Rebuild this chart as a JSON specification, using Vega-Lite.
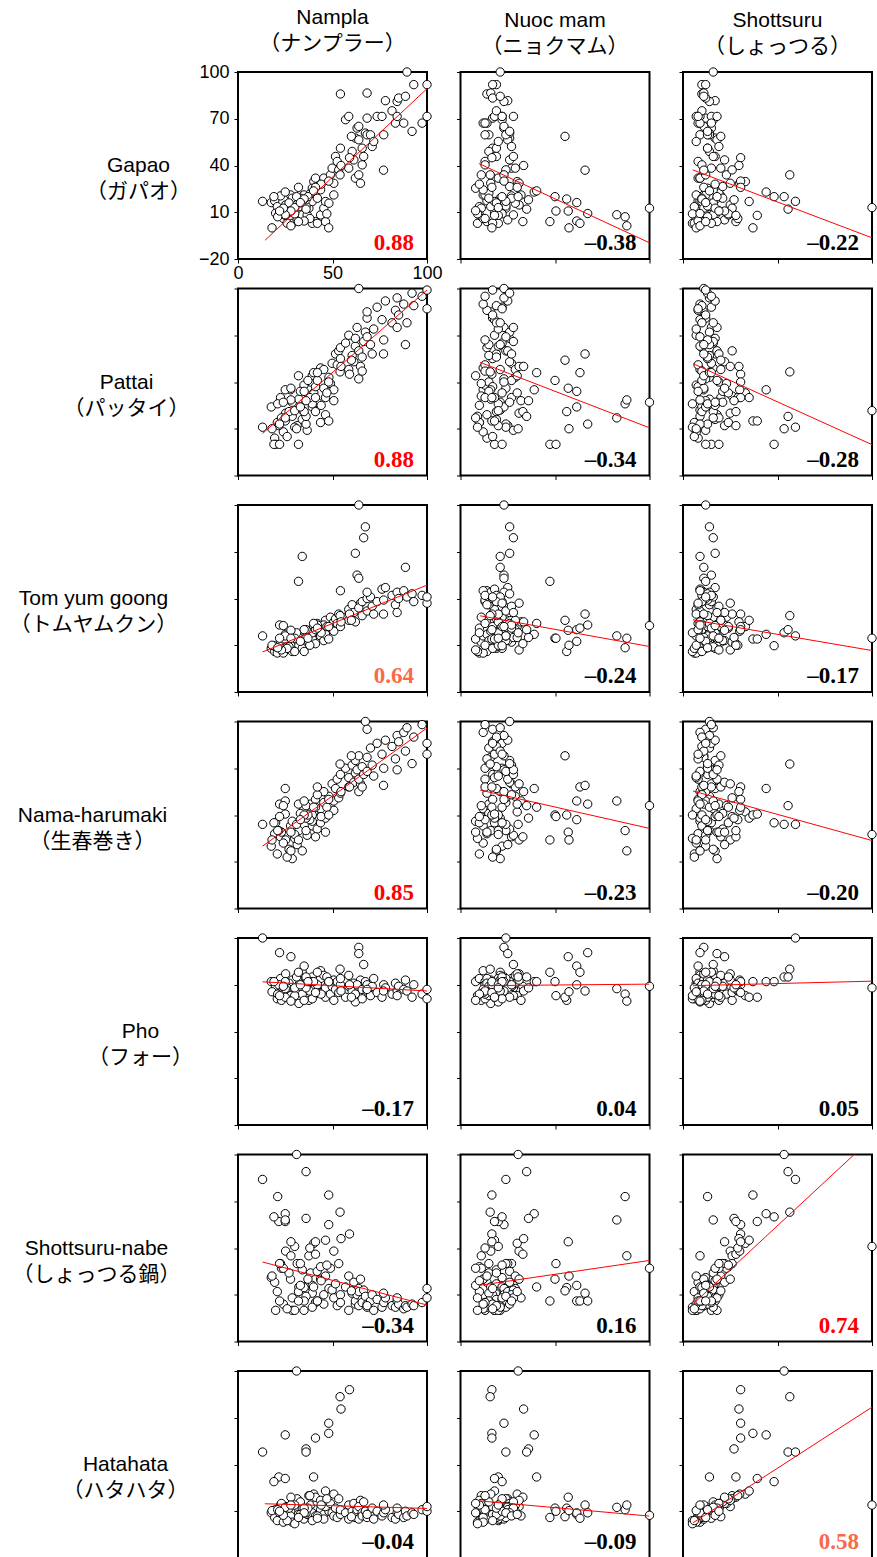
{
"$schema":"https://vega.github.io/schema/vega-lite/v6.json",
"background":"white",
"padding":{"left":8,"top":6,"right":5,"bottom":0},
"columns":3,
"spacing":{"row":29.5,"column":33.5},
"bounds":"flush",
"config":{
 "view":{"stroke":"black","strokeWidth":2},
 "axis":{"grid":false,"domain":false,"ticks":true,"tickSize":4,"tickColor":"black","tickWidth":1,"labelColor":"black","labelFont":"Liberation Sans","labelFontSize":18,"labelFlush":false,"labelOverlap":false,"titleColor":"black","titleFont":"'Liberation Sans', 'Noto Sans CJK JP', sans-serif","titleFontSize":21,"titleFontWeight":"normal"},
 "axisX":{"labelPadding":1},
 "axisY":{"labelPadding":5,"titleAngle":0,"titleAlign":"center","titleBaseline":"middle","titleY":93.5,"titleLineHeight":26},
 "title":{"font":"'Liberation Sans', 'Noto Sans CJK JP', sans-serif","fontSize":21,"fontWeight":"normal","lineHeight":26,"offset":9,"color":"black"}
},
"datasets":{
"subj":[
{"n":17.6,"m":22,"s":12,"g":16.2,"p":24,"t":8,"h":20,"f":72,"b":21,"k":9},
{"n":19.4,"m":14,"s":8,"g":17.3,"p":4,"t":6,"h":28,"f":66,"b":18,"k":6},
{"n":22.5,"m":27,"s":20,"g":20.5,"p":30,"t":12,"h":26,"f":74,"b":30,"k":14},
{"n":20.8,"m":10,"s":6,"g":13.6,"p":14,"t":5,"h":15,"f":61,"b":12,"k":4},
{"n":19.9,"m":18,"s":15,"g":9.4,"p":0,"t":9,"h":35,"f":69,"b":0,"k":11},
{"n":25.2,"m":31,"s":25,"g":14.7,"p":20,"t":7,"h":24,"f":77,"b":38,"k":13},
{"n":27.8,"m":12,"s":11,"g":21.1,"p":35,"t":14,"h":33,"f":63,"b":20,"k":7},
{"n":28.7,"m":21,"s":18,"g":19,"p":27,"t":11,"h":12,"f":70,"b":0,"k":15},
{"n":28.7,"m":9,"s":9,"g":2.9,"p":18,"t":6,"h":36,"f":73,"b":8,"k":3},
{"n":31.3,"m":25,"s":22,"g":5.1,"p":12,"t":13,"h":21,"f":66,"b":30,"k":18},
{"n":32.2,"m":16,"s":14,"g":13.6,"p":29,"t":10,"h":30,"f":58,"b":15,"k":10},
{"n":34,"m":21,"s":9,"g":17.3,"p":22,"t":67,"h":38,"f":78,"b":15,"k":8},
{"n":34.9,"m":13,"s":7,"g":21.1,"p":38,"t":16,"h":44,"f":71,"b":0,"k":5},
{"n":34,"m":19,"s":17,"g":8.3,"p":16,"t":8,"h":17,"f":64,"b":26,"k":12},
{"n":36.6,"m":28,"s":12,"g":8.3,"p":9,"t":15,"h":27,"f":68,"b":16,"k":8},
{"n":37.5,"m":11,"s":26,"g":12.6,"p":31,"t":12,"h":39,"f":60,"b":35,"k":20},
{"n":39.3,"m":23,"s":10,"g":16.9,"p":24,"t":20,"h":33,"f":75,"b":11,"k":6},
{"n":38.4,"m":15,"s":19,"g":22.2,"p":40,"t":17,"h":47,"f":67,"b":24,"k":14},
{"n":40.1,"m":30,"s":33,"g":29.7,"p":33,"t":22,"h":42,"f":63,"b":43,"k":21},
{"n":39.3,"m":8,"s":13,"g":25.4,"p":44,"t":14,"h":36,"f":72,"b":16,"k":9},
{"n":41,"m":17,"s":8,"g":31.9,"p":37,"t":19,"h":50,"f":70,"b":5,"k":7},
{"n":41.9,"m":26,"s":21,"g":26.5,"p":27,"t":24,"h":31,"f":65,"b":25,"k":16},
{"n":43.7,"m":12,"s":16,"g":24.4,"p":49,"t":16,"h":44,"f":79,"b":20,"k":11},
{"n":41,"m":33,"s":28,"g":4,"p":21,"t":11,"h":26,"f":69,"b":36,"k":19},
{"n":39.3,"m":20,"s":5,"g":2.9,"p":26,"t":18,"h":40,"f":61,"b":2,"k":4},
{"n":43.7,"m":10,"s":24,"g":8.3,"p":14,"t":21,"h":35,"f":74,"b":28,"k":17},
{"n":45.4,"m":24,"s":11,"g":12.6,"p":36,"t":13,"h":48,"f":66,"b":10,"k":8},
{"n":46.3,"m":18,"s":35,"g":16.9,"p":30,"t":26,"h":38,"f":62,"b":45,"k":23},
{"n":48.1,"m":29,"s":14,"g":15.8,"p":43,"t":20,"h":52,"f":71,"b":14,"k":10},
{"n":46.3,"m":14,"s":18,"g":4,"p":19,"t":17,"h":29,"f":68,"b":22,"k":13},
{"n":45.4,"m":21,"s":9,"g":31.9,"p":48,"t":23,"h":55,"f":76,"b":4,"k":5},
{"n":48.9,"m":11,"s":23,"g":34,"p":39,"t":28,"h":46,"f":64,"b":27,"k":15},
{"n":49.8,"m":27,"s":15,"g":38.3,"p":52,"t":21,"h":60,"f":69,"b":13,"k":9},
{"n":50.7,"m":16,"s":30,"g":28.6,"p":35,"t":19,"h":43,"f":73,"b":38,"k":21},
{"n":50.7,"m":32,"s":12,"g":21.1,"p":28,"t":25,"h":49,"f":60,"b":8,"k":7},
{"n":51.6,"m":19,"s":17,"g":45.8,"p":58,"t":27,"h":57,"f":67,"b":17,"k":12},
{"n":52.5,"m":13,"s":8,"g":42.6,"p":51,"t":24,"h":63,"f":72,"b":3,"k":6},
{"n":53.3,"m":24,"s":26,"g":37.2,"p":60,"t":30,"h":51,"f":65,"b":30,"k":18},
{"n":54.2,"m":17,"s":13,"g":51.1,"p":55,"t":22,"h":66,"f":70,"b":10,"k":8},
{"n":54.2,"m":14,"s":10,"g":85.9,"p":62,"t":45,"h":54,"f":74,"b":5,"k":11},
{"n":56.9,"m":22,"s":16,"g":69.4,"p":65,"t":28,"h":70,"f":62,"b":15,"k":9},
{"n":58.6,"m":18,"s":7,"g":71.5,"p":70,"t":33,"h":64,"f":69,"b":0,"k":5},
{"n":58.6,"m":29,"s":20,"g":38.3,"p":48,"t":26,"h":58,"f":76,"b":22,"k":14},
{"n":60.4,"m":15,"s":14,"g":49,"p":57,"t":36,"h":72,"f":66,"b":11,"k":10},
{"n":61.3,"m":26,"s":22,"g":43.6,"p":53,"t":31,"h":61,"f":71,"b":18,"k":15},
{"n":62.1,"m":20,"s":9,"g":31.9,"p":63,"t":25,"h":67,"f":59,"b":4,"k":6},
{"n":63.9,"m":23,"s":12,"g":34,"p":42,"t":100,"h":55,"f":68,"b":14,"k":12},
{"n":64.8,"m":31,"s":25,"g":28.6,"p":50,"t":37,"h":60,"f":73,"b":20,"k":17},
{"n":62.1,"m":26,"s":17,"g":57.6,"p":68,"t":69,"h":75,"f":64,"b":6,"k":8},
{"n":63,"m":23,"s":15,"g":64,"p":75,"t":55,"h":69,"f":70,"b":10,"k":11},
{"n":63.9,"m":23,"s":11,"g":65.1,"p":100,"t":53,"h":78,"f":94,"b":3,"k":5},
{"n":63.9,"m":25,"s":18,"g":56.5,"p":60,"t":34,"h":63,"f":90,"b":12,"k":13},
{"n":65.7,"m":19,"s":13,"g":51.1,"p":56,"t":29,"h":71,"f":67,"b":7,"k":9},
{"n":66.5,"m":28,"s":16,"g":45.8,"p":66,"t":79,"h":66,"f":83,"b":13,"k":16},
{"n":65.7,"m":13,"s":10,"g":40.4,"p":47,"t":38,"h":58,"f":61,"b":5,"k":7},
{"n":67.4,"m":26,"s":14,"g":60.8,"p":72,"t":86,"h":100,"f":72,"b":9,"k":10},
{"n":68.3,"m":17,"s":12,"g":70.4,"p":81,"t":40,"h":95,"f":66,"b":4,"k":8},
{"n":68.3,"m":24,"s":9,"g":59.7,"p":69,"t":32,"h":68,"f":70,"b":2,"k":6},
{"n":70.1,"m":15,"s":14,"g":59.7,"p":64,"t":41,"h":83,"f":63,"b":6,"k":9},
{"n":71,"m":27,"s":19,"g":52.2,"p":58,"t":35,"h":72,"f":69,"b":10,"k":12},
{"n":71.8,"m":20,"s":7,"g":55.4,"p":74,"t":30,"h":65,"f":74,"b":0,"k":5},
{"n":68.3,"m":16,"s":11,"g":86.5,"p":85,"t":44,"h":77,"f":67,"b":3,"k":8},
{"n":73.6,"m":22,"s":15,"g":71.5,"p":88,"t":38,"h":86,"f":65,"b":7,"k":10},
{"n":76.2,"m":18,"s":9,"g":71.5,"p":80,"t":46,"h":79,"f":62,"b":2,"k":7},
{"n":77.1,"m":13,"s":13,"g":59.7,"p":67,"t":39,"h":70,"f":70,"b":5,"k":9},
{"n":78,"m":25,"s":17,"g":81.6,"p":92,"t":47,"h":88,"f":68,"b":8,"k":11},
{"n":81.5,"m":19,"s":10,"g":75.1,"p":78,"t":42,"h":84,"f":64,"b":3,"k":6},
{"n":83.3,"m":14,"s":8,"g":67.2,"p":86,"t":36,"h":76,"f":71,"b":2,"k":5},
{"n":84.2,"m":23,"s":14,"g":81.1,"p":94,"t":44,"h":91,"f":66,"b":6,"k":9},
{"n":85,"m":17,"s":12,"g":83.3,"p":83,"t":40,"h":87,"f":69,"b":4,"k":8},
{"n":84.2,"m":28,"s":18,"g":71.5,"p":75,"t":31,"h":69,"f":63,"b":8,"k":12},
{"n":87.7,"m":12,"s":9,"g":67.2,"p":90,"t":45,"h":93,"f":67,"b":1,"k":6},
{"n":88.6,"m":21,"s":11,"g":84.4,"p":64,"t":60,"h":81,"f":73,"b":3,"k":10},
{"n":89.4,"m":21,"s":16,"g":100,"p":78,"t":41,"h":96,"f":66,"b":2,"k":7},
{"n":92.1,"m":26,"s":13,"g":61.9,"p":97,"t":43,"h":73,"f":62,"b":4,"k":9},
{"n":93,"m":19,"s":10,"g":91.9,"p":89,"t":38,"h":90,"f":70,"b":3,"k":8},
{"n":97.4,"m":13,"s":15,"g":67.2,"p":95,"t":42,"h":98,"f":64,"b":5,"k":11},
{"n":100,"m":22,"s":8,"g":71.5,"p":87,"t":37,"h":79,"f":61,"b":8,"k":10},
{"n":100,"m":17,"s":12,"g":91.9,"p":99,"t":41,"h":86,"f":67,"b":14,"k":13},
{"n":24,"m":12,"s":7,"g":6,"p":8,"t":5,"h":22,"f":65,"b":4,"k":3},
{"n":27,"m":19,"s":16,"g":16,"p":21,"t":9,"h":18,"f":71,"b":24,"k":12},
{"n":30,"m":9,"s":5,"g":9,"p":11,"t":6,"h":25,"f":63,"b":0,"k":2},
{"n":33,"m":15,"s":21,"g":19,"p":34,"t":13,"h":41,"f":69,"b":30,"k":16},
{"n":36,"m":24,"s":13,"g":14,"p":13,"t":16,"h":30,"f":74,"b":9,"k":9},
{"n":38,"m":13,"s":29,"g":6,"p":30,"t":10,"h":37,"f":66,"b":40,"k":20},
{"n":42,"m":27,"s":10,"g":19,"p":41,"t":23,"h":53,"f":70,"b":6,"k":7},
{"n":44,"m":10,"s":17,"g":28,"p":25,"t":18,"h":39,"f":64,"b":19,"k":14},
{"n":47,"m":22,"s":24,"g":9,"p":33,"t":22,"h":45,"f":75,"b":29,"k":18},
{"n":26,"m":17,"s":6,"g":3,"p":5,"t":8,"h":13,"f":68,"b":1,"k":4},
{"n":23,"m":8,"s":19,"g":11,"p":17,"t":7,"h":29,"f":60,"b":27,"k":15},
{"n":32,"m":30,"s":11,"g":26,"p":44,"t":15,"h":47,"f":77,"b":12,"k":8},
{"n":31,"m":30.5,"s":53.5,"g":20,"p":10,"t":18,"h":34,"f":75,"b":100,"k":100},
{"n":59,"m":16.6,"s":30.5,"g":45,"p":45,"t":30,"h":58,"f":70,"b":49,"k":88},
{"n":54,"m":15.7,"s":56.5,"g":34,"p":46.5,"t":29,"h":72.7,"f":80,"b":63,"k":83.5},
{"n":54.5,"m":33.4,"s":29.6,"g":40,"p":50,"t":25,"h":55,"f":66,"b":46,"k":75.6},
{"n":48,"m":23,"s":30.5,"g":30,"p":40,"t":22,"h":50,"f":72,"b":55,"k":66.5},
{"n":48,"m":16.6,"s":37,"g":0,"p":15,"t":14,"h":40,"f":72,"b":74,"k":60},
{"n":41,"m":16.6,"s":30.5,"g":26,"p":30,"t":20,"h":45,"f":65,"b":44,"k":57},
{"n":25,"m":39,"s":44,"g":23,"p":35,"t":17,"h":57,"f":72,"b":62,"k":59},
{"n":36,"m":36,"s":27,"g":18,"p":28,"t":15,"h":38,"f":68,"b":59,"k":50},
{"n":36,"m":35,"s":55.6,"g":12,"p":17.9,"t":20,"h":46,"f":75,"b":89,"k":48},
{"n":13,"m":24,"s":59.5,"g":17,"p":11,"t":16,"h":34,"f":100,"b":84,"k":48},
{"n":21.6,"m":20,"s":28,"g":8,"p":12,"t":10,"h":30,"f":70,"b":57,"k":32},
{"n":25,"m":18,"s":39.3,"g":8,"p":15,"t":14,"h":40.6,"f":62,"b":57,"k":31},
{"n":19,"m":22,"s":48.2,"g":20,"p":0,"t":9.7,"h":35,"f":72,"b":60,"k":29},
{"n":30,"m":20,"s":100,"g":13,"p":21.6,"t":14.5,"h":27.5,"f":68,"b":41,"k":14},
{"n":40,"m":40.3,"s":14,"g":23.7,"p":46,"t":24,"h":45,"f":72,"b":15,"k":32},
{"n":37,"m":50,"s":18,"g":20,"p":41,"t":14.5,"h":40,"f":72,"b":20,"k":12},
{"n":35,"m":56.2,"s":10,"g":18.5,"p":21,"t":6,"h":40,"f":60,"b":14.6,"k":12},
{"n":60,"m":55.3,"s":20,"g":58.7,"p":54,"t":26,"h":78,"f":62,"b":12.5,"k":6.5},
{"n":33,"m":61.5,"s":12,"g":16.2,"p":24,"t":12.5,"h":37,"f":70,"b":16,"k":8},
{"n":28,"m":57,"s":22,"g":10.8,"p":36,"t":19.6,"h":29,"f":88,"b":44,"k":19},
{"n":35,"m":61.5,"s":8,"g":4.4,"p":34,"t":20,"h":49,"f":82,"b":6,"k":9},
{"n":42,"m":63.2,"s":15,"g":2.9,"p":46,"t":21,"h":58,"f":78,"b":6,"k":5.5},
{"n":77,"m":65.9,"s":11,"g":37,"p":58,"t":30,"h":59,"f":66,"b":11,"k":14},
{"n":22,"m":67.3,"s":9,"g":9.2,"p":13,"t":23,"h":47,"f":90.6,"b":6,"k":9},
{"n":18,"m":57.4,"s":7,"g":0,"p":10,"t":10,"h":24,"f":65.5,"b":22,"k":10.4},
{"n":25,"m":82.7,"s":16,"g":8.4,"p":17,"t":16,"h":49,"f":67.5,"b":58,"k":12.5},
{"n":21,"m":87.1,"s":13,"g":7.1,"p":26,"t":8.4,"h":30,"f":64,"b":73,"k":11},
{"n":28,"m":88,"s":9,"g":1.3,"p":28.5,"t":14.5,"h":17,"f":59.5,"b":35,"k":14},
{"n":24,"m":100,"s":17,"g":12.6,"p":27,"t":22.6,"h":46,"f":69,"b":27,"k":7.4},
{"n":32,"m":47.3,"s":12,"g":4,"p":0,"t":51,"h":24,"f":78,"b":6,"k":6},
{"n":22,"m":50.5,"s":19,"g":10.8,"p":0,"t":14.5,"h":39,"f":63,"b":30,"k":10}
],
"fit":[
{"pid":"g_n","x":14.3,"y":-8},{"pid":"g_n","x":100,"y":89.3},
{"pid":"g_m","x":9.7,"y":41.3},{"pid":"g_m","x":100,"y":-9.6},
{"pid":"g_s","x":5.1,"y":37.2},{"pid":"g_s","x":100,"y":-6.4},
{"pid":"p_n","x":13,"y":7},{"pid":"p_n","x":100,"y":99},
{"pid":"p_m","x":10.4,"y":52.6},{"pid":"p_m","x":100,"y":10.6},
{"pid":"p_s","x":5.3,"y":51.8},{"pid":"p_s","x":100,"y":-0.2},
{"pid":"t_n","x":13,"y":5.7},{"pid":"t_n","x":100,"y":48.6},
{"pid":"t_m","x":10.4,"y":28.9},{"pid":"t_m","x":100,"y":9.2},
{"pid":"t_s","x":5.3,"y":26.3},{"pid":"t_s","x":100,"y":6.6},
{"pid":"h_n","x":13,"y":20},{"pid":"h_n","x":100,"y":95.8},
{"pid":"h_m","x":10.4,"y":56},{"pid":"h_m","x":100,"y":31.4},
{"pid":"h_s","x":5.3,"y":55.4},{"pid":"h_s","x":100,"y":23.6},
{"pid":"f_n","x":13,"y":71.9},{"pid":"f_n","x":100,"y":66},
{"pid":"f_m","x":10.4,"y":69.4},{"pid":"f_m","x":100,"y":70.4},
{"pid":"f_s","x":5.3,"y":69.4},{"pid":"f_s","x":100,"y":72.3},
{"pid":"b_n","x":13,"y":31},{"pid":"b_n","x":100,"y":3.4},
{"pid":"b_m","x":10.4,"y":16.1},{"pid":"b_m","x":100,"y":32},
{"pid":"b_s","x":5.3,"y":4},{"pid":"b_s","x":100,"y":110.6},
{"pid":"k_n","x":14.2,"y":14.8},{"pid":"k_n","x":100,"y":11.8},
{"pid":"k_m","x":10.4,"y":16.6},{"pid":"k_m","x":100,"y":6.9},
{"pid":"k_s","x":5.3,"y":2.6},{"pid":"k_s","x":100,"y":76.8}
],
"corr":[
{"pid":"g_n","r":"0.88","lvl":"strong"},{"pid":"g_m","r":"–0.38","lvl":"weak"},{"pid":"g_s","r":"–0.22","lvl":"weak"},
{"pid":"p_n","r":"0.88","lvl":"strong"},{"pid":"p_m","r":"–0.34","lvl":"weak"},{"pid":"p_s","r":"–0.28","lvl":"weak"},
{"pid":"t_n","r":"0.64","lvl":"mid"},{"pid":"t_m","r":"–0.24","lvl":"weak"},{"pid":"t_s","r":"–0.17","lvl":"weak"},
{"pid":"h_n","r":"0.85","lvl":"strong"},{"pid":"h_m","r":"–0.23","lvl":"weak"},{"pid":"h_s","r":"–0.20","lvl":"weak"},
{"pid":"f_n","r":"–0.17","lvl":"weak"},{"pid":"f_m","r":"0.04","lvl":"weak"},{"pid":"f_s","r":"0.05","lvl":"weak"},
{"pid":"b_n","r":"–0.34","lvl":"weak"},{"pid":"b_m","r":"0.16","lvl":"weak"},{"pid":"b_s","r":"0.74","lvl":"strong"},
{"pid":"k_n","r":"–0.04","lvl":"weak"},{"pid":"k_m","r":"–0.09","lvl":"weak"},{"pid":"k_s","r":"0.58","lvl":"mid"}
]
},
"concat":[
{"width":189,"height":187,"title":{"text":["Nampla","（ナンプラー）"]},"layer":[
 {"data":{"name":"subj"},"mark":{"type":"circle","size":70,"fill":"white","stroke":"black","strokeWidth":1,"opacity":1},"encoding":{"x":{"field":"n","type":"quantitative","scale":{"domain":[0,100],"nice":false,"zero":false},"axis":{"values":[0,50,100],"title":null,"labels":true}},"y":{"field":"g","type":"quantitative","scale":{"domain":[-20,100],"nice":false,"zero":false},"axis":{"values":[-20,10,40,70,100],"labels":true,"title":["Gapao","（ガパオ）"],"titleX":-100}}}},
 {"data":{"name":"fit"},"transform":[{"filter":{"field":"pid","equal":"g_n"}}],"mark":{"type":"line","clip":true,"color":"#ff0000","strokeWidth":1},"encoding":{"x":{"field":"x","type":"quantitative","title":null},"y":{"field":"y","type":"quantitative","title":["Gapao","（ガパオ）"]}}},
 {"data":{"name":"corr"},"transform":[{"filter":{"field":"pid","equal":"g_n"}}],"mark":{"type":"text","align":"right","baseline":"alphabetic","dx":-13,"dy":-9,"font":"Liberation Serif","fontSize":23,"fontWeight":"bold"},"encoding":{"x":{"datum":100,"title":null},"y":{"datum":-20,"title":["Gapao","（ガパオ）"]},"text":{"field":"r"},"color":{"field":"lvl","type":"nominal","scale":{"domain":["strong","mid","weak"],"range":["#ff0000","#f86a4c","#000000"]},"legend":null}}}
]},
{"width":189,"height":187,"title":{"text":["Nuoc mam","（ニョクマム）"]},"layer":[
 {"data":{"name":"subj"},"mark":{"type":"circle","size":70,"fill":"white","stroke":"black","strokeWidth":1,"opacity":1},"encoding":{"x":{"field":"m","type":"quantitative","scale":{"domain":[0,100],"nice":false,"zero":false},"axis":{"values":[0,50,100],"title":null,"labels":false}},"y":{"field":"g","type":"quantitative","scale":{"domain":[-20,100],"nice":false,"zero":false},"axis":{"values":[-20,10,40,70,100],"labels":false,"title":null}}}},
 {"data":{"name":"fit"},"transform":[{"filter":{"field":"pid","equal":"g_m"}}],"mark":{"type":"line","clip":true,"color":"#ff0000","strokeWidth":1},"encoding":{"x":{"field":"x","type":"quantitative","title":null},"y":{"field":"y","type":"quantitative","title":null}}},
 {"data":{"name":"corr"},"transform":[{"filter":{"field":"pid","equal":"g_m"}}],"mark":{"type":"text","align":"right","baseline":"alphabetic","dx":-13,"dy":-9,"font":"Liberation Serif","fontSize":23,"fontWeight":"bold"},"encoding":{"x":{"datum":100,"title":null},"y":{"datum":-20,"title":null},"text":{"field":"r"},"color":{"field":"lvl","type":"nominal","scale":{"domain":["strong","mid","weak"],"range":["#ff0000","#f86a4c","#000000"]},"legend":null}}}
]},
{"width":189,"height":187,"title":{"text":["Shottsuru","（しょっつる）"]},"layer":[
 {"data":{"name":"subj"},"mark":{"type":"circle","size":70,"fill":"white","stroke":"black","strokeWidth":1,"opacity":1},"encoding":{"x":{"field":"s","type":"quantitative","scale":{"domain":[0,100],"nice":false,"zero":false},"axis":{"values":[0,50,100],"title":null,"labels":false}},"y":{"field":"g","type":"quantitative","scale":{"domain":[-20,100],"nice":false,"zero":false},"axis":{"values":[-20,10,40,70,100],"labels":false,"title":null}}}},
 {"data":{"name":"fit"},"transform":[{"filter":{"field":"pid","equal":"g_s"}}],"mark":{"type":"line","clip":true,"color":"#ff0000","strokeWidth":1},"encoding":{"x":{"field":"x","type":"quantitative","title":null},"y":{"field":"y","type":"quantitative","title":null}}},
 {"data":{"name":"corr"},"transform":[{"filter":{"field":"pid","equal":"g_s"}}],"mark":{"type":"text","align":"right","baseline":"alphabetic","dx":-13,"dy":-9,"font":"Liberation Serif","fontSize":23,"fontWeight":"bold"},"encoding":{"x":{"datum":100,"title":null},"y":{"datum":-20,"title":null},"text":{"field":"r"},"color":{"field":"lvl","type":"nominal","scale":{"domain":["strong","mid","weak"],"range":["#ff0000","#f86a4c","#000000"]},"legend":null}}}
]},
{"width":189,"height":187,"layer":[
 {"data":{"name":"subj"},"mark":{"type":"circle","size":70,"fill":"white","stroke":"black","strokeWidth":1,"opacity":1},"encoding":{"x":{"field":"n","type":"quantitative","scale":{"domain":[0,100],"nice":false,"zero":false},"axis":{"values":[0,50,100],"title":null,"labels":false}},"y":{"field":"p","type":"quantitative","scale":{"domain":[-20,100],"nice":false,"zero":false},"axis":{"values":[-20,10,40,70,100],"labels":false,"title":["Pattai","（パッタイ）"],"titleX":-112}}}},
 {"data":{"name":"fit"},"transform":[{"filter":{"field":"pid","equal":"p_n"}}],"mark":{"type":"line","clip":true,"color":"#ff0000","strokeWidth":1},"encoding":{"x":{"field":"x","type":"quantitative","title":null},"y":{"field":"y","type":"quantitative","title":["Pattai","（パッタイ）"]}}},
 {"data":{"name":"corr"},"transform":[{"filter":{"field":"pid","equal":"p_n"}}],"mark":{"type":"text","align":"right","baseline":"alphabetic","dx":-13,"dy":-9,"font":"Liberation Serif","fontSize":23,"fontWeight":"bold"},"encoding":{"x":{"datum":100,"title":null},"y":{"datum":-20,"title":["Pattai","（パッタイ）"]},"text":{"field":"r"},"color":{"field":"lvl","type":"nominal","scale":{"domain":["strong","mid","weak"],"range":["#ff0000","#f86a4c","#000000"]},"legend":null}}}
]},
{"width":189,"height":187,"layer":[
 {"data":{"name":"subj"},"mark":{"type":"circle","size":70,"fill":"white","stroke":"black","strokeWidth":1,"opacity":1},"encoding":{"x":{"field":"m","type":"quantitative","scale":{"domain":[0,100],"nice":false,"zero":false},"axis":{"values":[0,50,100],"title":null,"labels":false}},"y":{"field":"p","type":"quantitative","scale":{"domain":[-20,100],"nice":false,"zero":false},"axis":{"values":[-20,10,40,70,100],"labels":false,"title":null}}}},
 {"data":{"name":"fit"},"transform":[{"filter":{"field":"pid","equal":"p_m"}}],"mark":{"type":"line","clip":true,"color":"#ff0000","strokeWidth":1},"encoding":{"x":{"field":"x","type":"quantitative","title":null},"y":{"field":"y","type":"quantitative","title":null}}},
 {"data":{"name":"corr"},"transform":[{"filter":{"field":"pid","equal":"p_m"}}],"mark":{"type":"text","align":"right","baseline":"alphabetic","dx":-13,"dy":-9,"font":"Liberation Serif","fontSize":23,"fontWeight":"bold"},"encoding":{"x":{"datum":100,"title":null},"y":{"datum":-20,"title":null},"text":{"field":"r"},"color":{"field":"lvl","type":"nominal","scale":{"domain":["strong","mid","weak"],"range":["#ff0000","#f86a4c","#000000"]},"legend":null}}}
]},
{"width":189,"height":187,"layer":[
 {"data":{"name":"subj"},"mark":{"type":"circle","size":70,"fill":"white","stroke":"black","strokeWidth":1,"opacity":1},"encoding":{"x":{"field":"s","type":"quantitative","scale":{"domain":[0,100],"nice":false,"zero":false},"axis":{"values":[0,50,100],"title":null,"labels":false}},"y":{"field":"p","type":"quantitative","scale":{"domain":[-20,100],"nice":false,"zero":false},"axis":{"values":[-20,10,40,70,100],"labels":false,"title":null}}}},
 {"data":{"name":"fit"},"transform":[{"filter":{"field":"pid","equal":"p_s"}}],"mark":{"type":"line","clip":true,"color":"#ff0000","strokeWidth":1},"encoding":{"x":{"field":"x","type":"quantitative","title":null},"y":{"field":"y","type":"quantitative","title":null}}},
 {"data":{"name":"corr"},"transform":[{"filter":{"field":"pid","equal":"p_s"}}],"mark":{"type":"text","align":"right","baseline":"alphabetic","dx":-13,"dy":-9,"font":"Liberation Serif","fontSize":23,"fontWeight":"bold"},"encoding":{"x":{"datum":100,"title":null},"y":{"datum":-20,"title":null},"text":{"field":"r"},"color":{"field":"lvl","type":"nominal","scale":{"domain":["strong","mid","weak"],"range":["#ff0000","#f86a4c","#000000"]},"legend":null}}}
]},
{"width":189,"height":187,"layer":[
 {"data":{"name":"subj"},"mark":{"type":"circle","size":70,"fill":"white","stroke":"black","strokeWidth":1,"opacity":1},"encoding":{"x":{"field":"n","type":"quantitative","scale":{"domain":[0,100],"nice":false,"zero":false},"axis":{"values":[0,50,100],"title":null,"labels":false}},"y":{"field":"t","type":"quantitative","scale":{"domain":[-20,100],"nice":false,"zero":false},"axis":{"values":[-20,10,40,70,100],"labels":false,"title":["Tom yum goong","（トムヤムクン）"],"titleX":-145}}}},
 {"data":{"name":"fit"},"transform":[{"filter":{"field":"pid","equal":"t_n"}}],"mark":{"type":"line","clip":true,"color":"#ff0000","strokeWidth":1},"encoding":{"x":{"field":"x","type":"quantitative","title":null},"y":{"field":"y","type":"quantitative","title":["Tom yum goong","（トムヤムクン）"]}}},
 {"data":{"name":"corr"},"transform":[{"filter":{"field":"pid","equal":"t_n"}}],"mark":{"type":"text","align":"right","baseline":"alphabetic","dx":-13,"dy":-9,"font":"Liberation Serif","fontSize":23,"fontWeight":"bold"},"encoding":{"x":{"datum":100,"title":null},"y":{"datum":-20,"title":["Tom yum goong","（トムヤムクン）"]},"text":{"field":"r"},"color":{"field":"lvl","type":"nominal","scale":{"domain":["strong","mid","weak"],"range":["#ff0000","#f86a4c","#000000"]},"legend":null}}}
]},
{"width":189,"height":187,"layer":[
 {"data":{"name":"subj"},"mark":{"type":"circle","size":70,"fill":"white","stroke":"black","strokeWidth":1,"opacity":1},"encoding":{"x":{"field":"m","type":"quantitative","scale":{"domain":[0,100],"nice":false,"zero":false},"axis":{"values":[0,50,100],"title":null,"labels":false}},"y":{"field":"t","type":"quantitative","scale":{"domain":[-20,100],"nice":false,"zero":false},"axis":{"values":[-20,10,40,70,100],"labels":false,"title":null}}}},
 {"data":{"name":"fit"},"transform":[{"filter":{"field":"pid","equal":"t_m"}}],"mark":{"type":"line","clip":true,"color":"#ff0000","strokeWidth":1},"encoding":{"x":{"field":"x","type":"quantitative","title":null},"y":{"field":"y","type":"quantitative","title":null}}},
 {"data":{"name":"corr"},"transform":[{"filter":{"field":"pid","equal":"t_m"}}],"mark":{"type":"text","align":"right","baseline":"alphabetic","dx":-13,"dy":-9,"font":"Liberation Serif","fontSize":23,"fontWeight":"bold"},"encoding":{"x":{"datum":100,"title":null},"y":{"datum":-20,"title":null},"text":{"field":"r"},"color":{"field":"lvl","type":"nominal","scale":{"domain":["strong","mid","weak"],"range":["#ff0000","#f86a4c","#000000"]},"legend":null}}}
]},
{"width":189,"height":187,"layer":[
 {"data":{"name":"subj"},"mark":{"type":"circle","size":70,"fill":"white","stroke":"black","strokeWidth":1,"opacity":1},"encoding":{"x":{"field":"s","type":"quantitative","scale":{"domain":[0,100],"nice":false,"zero":false},"axis":{"values":[0,50,100],"title":null,"labels":false}},"y":{"field":"t","type":"quantitative","scale":{"domain":[-20,100],"nice":false,"zero":false},"axis":{"values":[-20,10,40,70,100],"labels":false,"title":null}}}},
 {"data":{"name":"fit"},"transform":[{"filter":{"field":"pid","equal":"t_s"}}],"mark":{"type":"line","clip":true,"color":"#ff0000","strokeWidth":1},"encoding":{"x":{"field":"x","type":"quantitative","title":null},"y":{"field":"y","type":"quantitative","title":null}}},
 {"data":{"name":"corr"},"transform":[{"filter":{"field":"pid","equal":"t_s"}}],"mark":{"type":"text","align":"right","baseline":"alphabetic","dx":-13,"dy":-9,"font":"Liberation Serif","fontSize":23,"fontWeight":"bold"},"encoding":{"x":{"datum":100,"title":null},"y":{"datum":-20,"title":null},"text":{"field":"r"},"color":{"field":"lvl","type":"nominal","scale":{"domain":["strong","mid","weak"],"range":["#ff0000","#f86a4c","#000000"]},"legend":null}}}
]},
{"width":189,"height":187,"layer":[
 {"data":{"name":"subj"},"mark":{"type":"circle","size":70,"fill":"white","stroke":"black","strokeWidth":1,"opacity":1},"encoding":{"x":{"field":"n","type":"quantitative","scale":{"domain":[0,100],"nice":false,"zero":false},"axis":{"values":[0,50,100],"title":null,"labels":false}},"y":{"field":"h","type":"quantitative","scale":{"domain":[-20,100],"nice":false,"zero":false},"axis":{"values":[-20,10,40,70,100],"labels":false,"title":["Nama-harumaki","（生春巻き）"],"titleX":-146}}}},
 {"data":{"name":"fit"},"transform":[{"filter":{"field":"pid","equal":"h_n"}}],"mark":{"type":"line","clip":true,"color":"#ff0000","strokeWidth":1},"encoding":{"x":{"field":"x","type":"quantitative","title":null},"y":{"field":"y","type":"quantitative","title":["Nama-harumaki","（生春巻き）"]}}},
 {"data":{"name":"corr"},"transform":[{"filter":{"field":"pid","equal":"h_n"}}],"mark":{"type":"text","align":"right","baseline":"alphabetic","dx":-13,"dy":-9,"font":"Liberation Serif","fontSize":23,"fontWeight":"bold"},"encoding":{"x":{"datum":100,"title":null},"y":{"datum":-20,"title":["Nama-harumaki","（生春巻き）"]},"text":{"field":"r"},"color":{"field":"lvl","type":"nominal","scale":{"domain":["strong","mid","weak"],"range":["#ff0000","#f86a4c","#000000"]},"legend":null}}}
]},
{"width":189,"height":187,"layer":[
 {"data":{"name":"subj"},"mark":{"type":"circle","size":70,"fill":"white","stroke":"black","strokeWidth":1,"opacity":1},"encoding":{"x":{"field":"m","type":"quantitative","scale":{"domain":[0,100],"nice":false,"zero":false},"axis":{"values":[0,50,100],"title":null,"labels":false}},"y":{"field":"h","type":"quantitative","scale":{"domain":[-20,100],"nice":false,"zero":false},"axis":{"values":[-20,10,40,70,100],"labels":false,"title":null}}}},
 {"data":{"name":"fit"},"transform":[{"filter":{"field":"pid","equal":"h_m"}}],"mark":{"type":"line","clip":true,"color":"#ff0000","strokeWidth":1},"encoding":{"x":{"field":"x","type":"quantitative","title":null},"y":{"field":"y","type":"quantitative","title":null}}},
 {"data":{"name":"corr"},"transform":[{"filter":{"field":"pid","equal":"h_m"}}],"mark":{"type":"text","align":"right","baseline":"alphabetic","dx":-13,"dy":-9,"font":"Liberation Serif","fontSize":23,"fontWeight":"bold"},"encoding":{"x":{"datum":100,"title":null},"y":{"datum":-20,"title":null},"text":{"field":"r"},"color":{"field":"lvl","type":"nominal","scale":{"domain":["strong","mid","weak"],"range":["#ff0000","#f86a4c","#000000"]},"legend":null}}}
]},
{"width":189,"height":187,"layer":[
 {"data":{"name":"subj"},"mark":{"type":"circle","size":70,"fill":"white","stroke":"black","strokeWidth":1,"opacity":1},"encoding":{"x":{"field":"s","type":"quantitative","scale":{"domain":[0,100],"nice":false,"zero":false},"axis":{"values":[0,50,100],"title":null,"labels":false}},"y":{"field":"h","type":"quantitative","scale":{"domain":[-20,100],"nice":false,"zero":false},"axis":{"values":[-20,10,40,70,100],"labels":false,"title":null}}}},
 {"data":{"name":"fit"},"transform":[{"filter":{"field":"pid","equal":"h_s"}}],"mark":{"type":"line","clip":true,"color":"#ff0000","strokeWidth":1},"encoding":{"x":{"field":"x","type":"quantitative","title":null},"y":{"field":"y","type":"quantitative","title":null}}},
 {"data":{"name":"corr"},"transform":[{"filter":{"field":"pid","equal":"h_s"}}],"mark":{"type":"text","align":"right","baseline":"alphabetic","dx":-13,"dy":-9,"font":"Liberation Serif","fontSize":23,"fontWeight":"bold"},"encoding":{"x":{"datum":100,"title":null},"y":{"datum":-20,"title":null},"text":{"field":"r"},"color":{"field":"lvl","type":"nominal","scale":{"domain":["strong","mid","weak"],"range":["#ff0000","#f86a4c","#000000"]},"legend":null}}}
]},
{"width":189,"height":187,"layer":[
 {"data":{"name":"subj"},"mark":{"type":"circle","size":70,"fill":"white","stroke":"black","strokeWidth":1,"opacity":1},"encoding":{"x":{"field":"n","type":"quantitative","scale":{"domain":[0,100],"nice":false,"zero":false},"axis":{"values":[0,50,100],"title":null,"labels":false}},"y":{"field":"f","type":"quantitative","scale":{"domain":[-20,100],"nice":false,"zero":false},"axis":{"values":[-20,10,40,70,100],"labels":false,"title":["Pho","（フォー）"],"titleX":-98}}}},
 {"data":{"name":"fit"},"transform":[{"filter":{"field":"pid","equal":"f_n"}}],"mark":{"type":"line","clip":true,"color":"#ff0000","strokeWidth":1},"encoding":{"x":{"field":"x","type":"quantitative","title":null},"y":{"field":"y","type":"quantitative","title":["Pho","（フォー）"]}}},
 {"data":{"name":"corr"},"transform":[{"filter":{"field":"pid","equal":"f_n"}}],"mark":{"type":"text","align":"right","baseline":"alphabetic","dx":-13,"dy":-9,"font":"Liberation Serif","fontSize":23,"fontWeight":"bold"},"encoding":{"x":{"datum":100,"title":null},"y":{"datum":-20,"title":["Pho","（フォー）"]},"text":{"field":"r"},"color":{"field":"lvl","type":"nominal","scale":{"domain":["strong","mid","weak"],"range":["#ff0000","#f86a4c","#000000"]},"legend":null}}}
]},
{"width":189,"height":187,"layer":[
 {"data":{"name":"subj"},"mark":{"type":"circle","size":70,"fill":"white","stroke":"black","strokeWidth":1,"opacity":1},"encoding":{"x":{"field":"m","type":"quantitative","scale":{"domain":[0,100],"nice":false,"zero":false},"axis":{"values":[0,50,100],"title":null,"labels":false}},"y":{"field":"f","type":"quantitative","scale":{"domain":[-20,100],"nice":false,"zero":false},"axis":{"values":[-20,10,40,70,100],"labels":false,"title":null}}}},
 {"data":{"name":"fit"},"transform":[{"filter":{"field":"pid","equal":"f_m"}}],"mark":{"type":"line","clip":true,"color":"#ff0000","strokeWidth":1},"encoding":{"x":{"field":"x","type":"quantitative","title":null},"y":{"field":"y","type":"quantitative","title":null}}},
 {"data":{"name":"corr"},"transform":[{"filter":{"field":"pid","equal":"f_m"}}],"mark":{"type":"text","align":"right","baseline":"alphabetic","dx":-13,"dy":-9,"font":"Liberation Serif","fontSize":23,"fontWeight":"bold"},"encoding":{"x":{"datum":100,"title":null},"y":{"datum":-20,"title":null},"text":{"field":"r"},"color":{"field":"lvl","type":"nominal","scale":{"domain":["strong","mid","weak"],"range":["#ff0000","#f86a4c","#000000"]},"legend":null}}}
]},
{"width":189,"height":187,"layer":[
 {"data":{"name":"subj"},"mark":{"type":"circle","size":70,"fill":"white","stroke":"black","strokeWidth":1,"opacity":1},"encoding":{"x":{"field":"s","type":"quantitative","scale":{"domain":[0,100],"nice":false,"zero":false},"axis":{"values":[0,50,100],"title":null,"labels":false}},"y":{"field":"f","type":"quantitative","scale":{"domain":[-20,100],"nice":false,"zero":false},"axis":{"values":[-20,10,40,70,100],"labels":false,"title":null}}}},
 {"data":{"name":"fit"},"transform":[{"filter":{"field":"pid","equal":"f_s"}}],"mark":{"type":"line","clip":true,"color":"#ff0000","strokeWidth":1},"encoding":{"x":{"field":"x","type":"quantitative","title":null},"y":{"field":"y","type":"quantitative","title":null}}},
 {"data":{"name":"corr"},"transform":[{"filter":{"field":"pid","equal":"f_s"}}],"mark":{"type":"text","align":"right","baseline":"alphabetic","dx":-13,"dy":-9,"font":"Liberation Serif","fontSize":23,"fontWeight":"bold"},"encoding":{"x":{"datum":100,"title":null},"y":{"datum":-20,"title":null},"text":{"field":"r"},"color":{"field":"lvl","type":"nominal","scale":{"domain":["strong","mid","weak"],"range":["#ff0000","#f86a4c","#000000"]},"legend":null}}}
]},
{"width":189,"height":187,"layer":[
 {"data":{"name":"subj"},"mark":{"type":"circle","size":70,"fill":"white","stroke":"black","strokeWidth":1,"opacity":1},"encoding":{"x":{"field":"n","type":"quantitative","scale":{"domain":[0,100],"nice":false,"zero":false},"axis":{"values":[0,50,100],"title":null,"labels":false}},"y":{"field":"b","type":"quantitative","scale":{"domain":[-20,100],"nice":false,"zero":false},"axis":{"values":[-20,10,40,70,100],"labels":false,"title":["Shottsuru-nabe","（しょっつる鍋）"],"titleX":-142}}}},
 {"data":{"name":"fit"},"transform":[{"filter":{"field":"pid","equal":"b_n"}}],"mark":{"type":"line","clip":true,"color":"#ff0000","strokeWidth":1},"encoding":{"x":{"field":"x","type":"quantitative","title":null},"y":{"field":"y","type":"quantitative","title":["Shottsuru-nabe","（しょっつる鍋）"]}}},
 {"data":{"name":"corr"},"transform":[{"filter":{"field":"pid","equal":"b_n"}}],"mark":{"type":"text","align":"right","baseline":"alphabetic","dx":-13,"dy":-9,"font":"Liberation Serif","fontSize":23,"fontWeight":"bold"},"encoding":{"x":{"datum":100,"title":null},"y":{"datum":-20,"title":["Shottsuru-nabe","（しょっつる鍋）"]},"text":{"field":"r"},"color":{"field":"lvl","type":"nominal","scale":{"domain":["strong","mid","weak"],"range":["#ff0000","#f86a4c","#000000"]},"legend":null}}}
]},
{"width":189,"height":187,"layer":[
 {"data":{"name":"subj"},"mark":{"type":"circle","size":70,"fill":"white","stroke":"black","strokeWidth":1,"opacity":1},"encoding":{"x":{"field":"m","type":"quantitative","scale":{"domain":[0,100],"nice":false,"zero":false},"axis":{"values":[0,50,100],"title":null,"labels":false}},"y":{"field":"b","type":"quantitative","scale":{"domain":[-20,100],"nice":false,"zero":false},"axis":{"values":[-20,10,40,70,100],"labels":false,"title":null}}}},
 {"data":{"name":"fit"},"transform":[{"filter":{"field":"pid","equal":"b_m"}}],"mark":{"type":"line","clip":true,"color":"#ff0000","strokeWidth":1},"encoding":{"x":{"field":"x","type":"quantitative","title":null},"y":{"field":"y","type":"quantitative","title":null}}},
 {"data":{"name":"corr"},"transform":[{"filter":{"field":"pid","equal":"b_m"}}],"mark":{"type":"text","align":"right","baseline":"alphabetic","dx":-13,"dy":-9,"font":"Liberation Serif","fontSize":23,"fontWeight":"bold"},"encoding":{"x":{"datum":100,"title":null},"y":{"datum":-20,"title":null},"text":{"field":"r"},"color":{"field":"lvl","type":"nominal","scale":{"domain":["strong","mid","weak"],"range":["#ff0000","#f86a4c","#000000"]},"legend":null}}}
]},
{"width":189,"height":187,"layer":[
 {"data":{"name":"subj"},"mark":{"type":"circle","size":70,"fill":"white","stroke":"black","strokeWidth":1,"opacity":1},"encoding":{"x":{"field":"s","type":"quantitative","scale":{"domain":[0,100],"nice":false,"zero":false},"axis":{"values":[0,50,100],"title":null,"labels":false}},"y":{"field":"b","type":"quantitative","scale":{"domain":[-20,100],"nice":false,"zero":false},"axis":{"values":[-20,10,40,70,100],"labels":false,"title":null}}}},
 {"data":{"name":"fit"},"transform":[{"filter":{"field":"pid","equal":"b_s"}}],"mark":{"type":"line","clip":true,"color":"#ff0000","strokeWidth":1},"encoding":{"x":{"field":"x","type":"quantitative","title":null},"y":{"field":"y","type":"quantitative","title":null}}},
 {"data":{"name":"corr"},"transform":[{"filter":{"field":"pid","equal":"b_s"}}],"mark":{"type":"text","align":"right","baseline":"alphabetic","dx":-13,"dy":-9,"font":"Liberation Serif","fontSize":23,"fontWeight":"bold"},"encoding":{"x":{"datum":100,"title":null},"y":{"datum":-20,"title":null},"text":{"field":"r"},"color":{"field":"lvl","type":"nominal","scale":{"domain":["strong","mid","weak"],"range":["#ff0000","#f86a4c","#000000"]},"legend":null}}}
]},
{"width":189,"height":187,"layer":[
 {"data":{"name":"subj"},"mark":{"type":"circle","size":70,"fill":"white","stroke":"black","strokeWidth":1,"opacity":1},"encoding":{"x":{"field":"n","type":"quantitative","scale":{"domain":[0,100],"nice":false,"zero":false},"axis":{"values":[0,50,100],"title":null,"labels":false}},"y":{"field":"k","type":"quantitative","scale":{"domain":[-20,100],"nice":false,"zero":false},"axis":{"values":[-20,10,40,70,100],"labels":false,"title":["Hatahata","（ハタハタ）"],"titleX":-113}}}},
 {"data":{"name":"fit"},"transform":[{"filter":{"field":"pid","equal":"k_n"}}],"mark":{"type":"line","clip":true,"color":"#ff0000","strokeWidth":1},"encoding":{"x":{"field":"x","type":"quantitative","title":null},"y":{"field":"y","type":"quantitative","title":["Hatahata","（ハタハタ）"]}}},
 {"data":{"name":"corr"},"transform":[{"filter":{"field":"pid","equal":"k_n"}}],"mark":{"type":"text","align":"right","baseline":"alphabetic","dx":-13,"dy":-9,"font":"Liberation Serif","fontSize":23,"fontWeight":"bold"},"encoding":{"x":{"datum":100,"title":null},"y":{"datum":-20,"title":["Hatahata","（ハタハタ）"]},"text":{"field":"r"},"color":{"field":"lvl","type":"nominal","scale":{"domain":["strong","mid","weak"],"range":["#ff0000","#f86a4c","#000000"]},"legend":null}}}
]},
{"width":189,"height":187,"layer":[
 {"data":{"name":"subj"},"mark":{"type":"circle","size":70,"fill":"white","stroke":"black","strokeWidth":1,"opacity":1},"encoding":{"x":{"field":"m","type":"quantitative","scale":{"domain":[0,100],"nice":false,"zero":false},"axis":{"values":[0,50,100],"title":null,"labels":false}},"y":{"field":"k","type":"quantitative","scale":{"domain":[-20,100],"nice":false,"zero":false},"axis":{"values":[-20,10,40,70,100],"labels":false,"title":null}}}},
 {"data":{"name":"fit"},"transform":[{"filter":{"field":"pid","equal":"k_m"}}],"mark":{"type":"line","clip":true,"color":"#ff0000","strokeWidth":1},"encoding":{"x":{"field":"x","type":"quantitative","title":null},"y":{"field":"y","type":"quantitative","title":null}}},
 {"data":{"name":"corr"},"transform":[{"filter":{"field":"pid","equal":"k_m"}}],"mark":{"type":"text","align":"right","baseline":"alphabetic","dx":-13,"dy":-9,"font":"Liberation Serif","fontSize":23,"fontWeight":"bold"},"encoding":{"x":{"datum":100,"title":null},"y":{"datum":-20,"title":null},"text":{"field":"r"},"color":{"field":"lvl","type":"nominal","scale":{"domain":["strong","mid","weak"],"range":["#ff0000","#f86a4c","#000000"]},"legend":null}}}
]},
{"width":189,"height":187,"layer":[
 {"data":{"name":"subj"},"mark":{"type":"circle","size":70,"fill":"white","stroke":"black","strokeWidth":1,"opacity":1},"encoding":{"x":{"field":"s","type":"quantitative","scale":{"domain":[0,100],"nice":false,"zero":false},"axis":{"values":[0,50,100],"title":null,"labels":false}},"y":{"field":"k","type":"quantitative","scale":{"domain":[-20,100],"nice":false,"zero":false},"axis":{"values":[-20,10,40,70,100],"labels":false,"title":null}}}},
 {"data":{"name":"fit"},"transform":[{"filter":{"field":"pid","equal":"k_s"}}],"mark":{"type":"line","clip":true,"color":"#ff0000","strokeWidth":1},"encoding":{"x":{"field":"x","type":"quantitative","title":null},"y":{"field":"y","type":"quantitative","title":null}}},
 {"data":{"name":"corr"},"transform":[{"filter":{"field":"pid","equal":"k_s"}}],"mark":{"type":"text","align":"right","baseline":"alphabetic","dx":-13,"dy":-9,"font":"Liberation Serif","fontSize":23,"fontWeight":"bold"},"encoding":{"x":{"datum":100,"title":null},"y":{"datum":-20,"title":null},"text":{"field":"r"},"color":{"field":"lvl","type":"nominal","scale":{"domain":["strong","mid","weak"],"range":["#ff0000","#f86a4c","#000000"]},"legend":null}}}
]}
]
}
